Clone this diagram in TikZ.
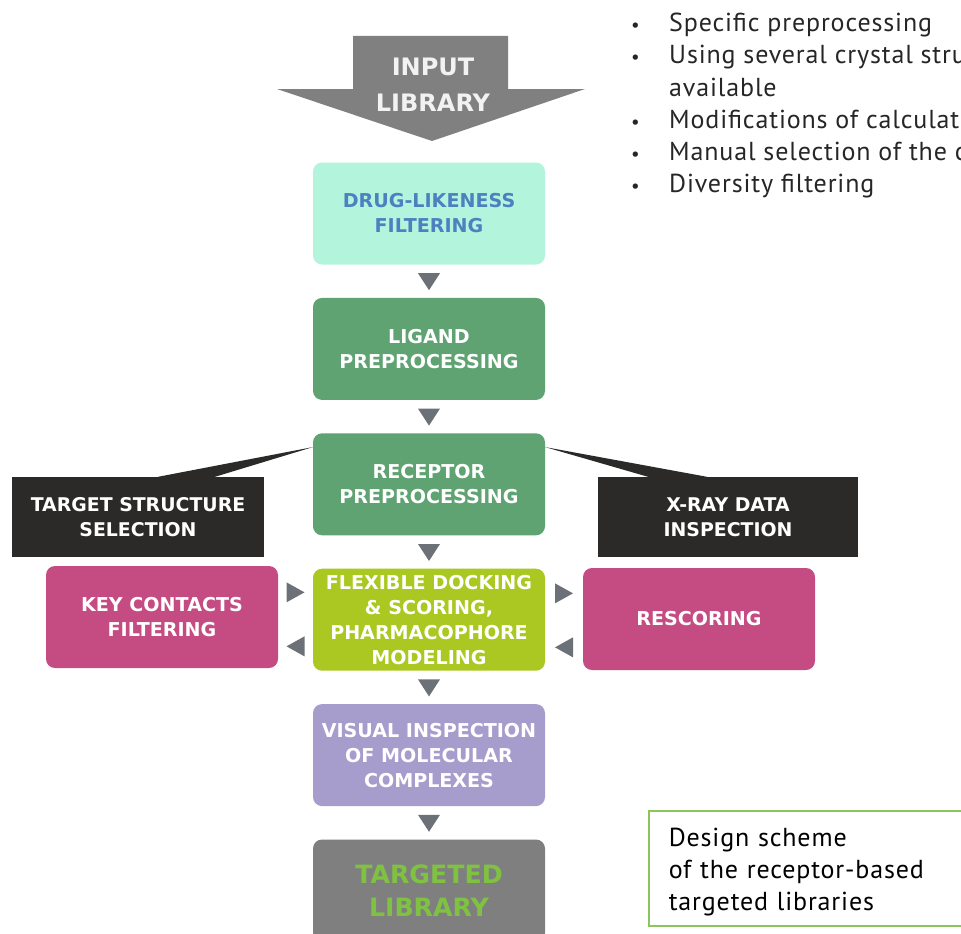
\documentclass[tikz,border=0pt]{standalone}
\usepackage{fontspec}
\setmainfont{DejaVu Sans}
\newfontfamily\notefont[LetterSpace=3.3]{PT Sans}
\usetikzlibrary{positioning,calc}

\definecolor{inputgray}{HTML}{808080}
\definecolor{mint}{HTML}{B3F5DC}
\definecolor{drugblue}{HTML}{4E7FC0}
\definecolor{leafgreen}{HTML}{5FA373}
\definecolor{lime}{HTML}{ABC721}
\definecolor{keypink}{HTML}{C44C82}
\definecolor{lavender}{HTML}{A69DCD}
\definecolor{nearblack}{HTML}{2B2A28}
\definecolor{arrowgray}{HTML}{6C7177}
\definecolor{libgray}{HTML}{7F7F7F}
\definecolor{libgreen}{HTML}{7FC241}
\definecolor{framegreen}{HTML}{8DC55D}

\tikzstyle{flow box}=[
    rounded corners = 9pt,
    minimum width = 232pt,
    minimum height = 102pt,
    inner sep = 2pt,
    align = center,
    text = white,
    font = \bfseries\fontsize{19.1}{25}\selectfont
]
\tikzstyle{dark box}=[
    fill = nearblack,
    minimum height = 80pt,
    align = center,
    text = white,
    font = \bfseries\fontsize{18.9}{25}\selectfont
]

% small triangles between the boxes
\newcommand{\flowdown}[2]{\fill[arrowgray] ($(#1.south)!0.5!(#2.north)$) ++(-11,-8) -- ++(22,0) -- ++(-11,17) -- cycle;}
\newcommand{\flowright}[3]{\fill[arrowgray] ($(#1.east)!0.5!(#2.west)$) ++(-9,#3-10) -- ++(18,10) -- ++(-18,10) -- cycle;}
\newcommand{\flowleft}[3]{\fill[arrowgray] ($(#1.east)!0.5!(#2.west)$) ++(9,#3-10) -- ++(-18,10) -- ++(18,10) -- cycle;}
\newcommand{\notebullet}{\makebox[38pt][l]{\fontsize{19}{19}\selectfont\textbullet}}

\begin{document}
\begin{tikzpicture}[x=1pt, y=-1pt, node distance=33pt]
    \useasboundingbox (0,0) rectangle (961,934);
    \clip (0,0) rectangle (961,934);

    % input arrow
    \fill[inputgray] (353,36) -- (508,36) -- (508,89) -- (585,89) -- (432,141)
        -- (277,89) -- (353,89) -- cycle;
    \node[align=center, text=white!95!black, font=\bfseries\fontsize{24}{36}\selectfont]
        (input) at (433,84.5) {INPUT\\LIBRARY};

    % main column
    \node[flow box, fill=mint, text=drugblue] (drug) at (429,213.5) {DRUG-LIKENESS\\FILTERING};
    \node[flow box, fill=leafgreen] (ligand) [below=of drug] {LIGAND\\PREPROCESSING};
    \node[flow box, fill=leafgreen] (receptor) [below=of ligand] {RECEPTOR\\PREPROCESSING};
    \node[flow box, fill=lime] (docking) [below=of receptor] {FLEXIBLE DOCKING\\\& SCORING,\\PHARMACOPHORE\\MODELING};
    \node[flow box, fill=lavender] (visual) [below=of docking] {VISUAL INSPECTION\\OF MOLECULAR\\COMPLEXES};
    \node[flow box, fill=libgray, text=libgreen, font=\bfseries\fontsize{25.2}{33}\selectfont]
        (targeted) [below=of visual] {TARGETED\\LIBRARY};

    % side boxes
    \node[flow box, fill=keypink] (key) at (162,617) {KEY CONTACTS\\FILTERING};
    \node[flow box, fill=keypink] (rescoring) at (699,619) {RESCORING};

    % callouts
    \node[dark box, minimum width=252pt] (selection) at (138,517) {TARGET STRUCTURE\\SELECTION};
    \node[dark box, minimum width=260pt] (xray) at (728,517) {X-RAY DATA\\INSPECTION};
    \fill[nearblack] ([xshift=20pt]selection.north) -- ([yshift=-14pt]receptor.north west)
        -- ([xshift=77pt]selection.north) -- cycle;
    \fill[nearblack] ([xshift=-80pt]xray.north) -- ([yshift=-14pt]receptor.north east)
        -- ([xshift=-21pt]xray.north) -- cycle;

    \flowdown{drug}{ligand}
    \flowdown{ligand}{receptor}
    \flowdown{receptor}{docking}
    \flowdown{docking}{visual}
    \flowdown{visual}{targeted}
    \flowright{key}{docking}{-26}
    \flowleft{key}{docking}{28}
    \flowright{docking}{rescoring}{-26}
    \flowleft{docking}{rescoring}{28}

    % notes
    \node[anchor=north west, align=left, inner sep=0pt, text=black!85,
        font=\notefont\fontsize{26}{32.2}\selectfont] (notes) at (631,13)
        {\notebullet Specific preprocessing\\
         \notebullet Using several crystal structures if\\
         \hspace*{38pt}available\\
         \notebullet Modifications of calculation parameters\\
         \notebullet Manual selection of the compounds\\
         \notebullet Diversity filtering};

    \node[draw=framegreen, line width=1.5pt, anchor=north west, minimum height=115pt,
        text width=300pt, inner xsep=20pt, align=left, text=black,
        font=\notefont\fontsize{26}{32}\selectfont] (caption) at (648,810)
        {\rule{0pt}{25pt}Design scheme\\of the receptor-based\\targeted libraries};
\end{tikzpicture}
\end{document}
